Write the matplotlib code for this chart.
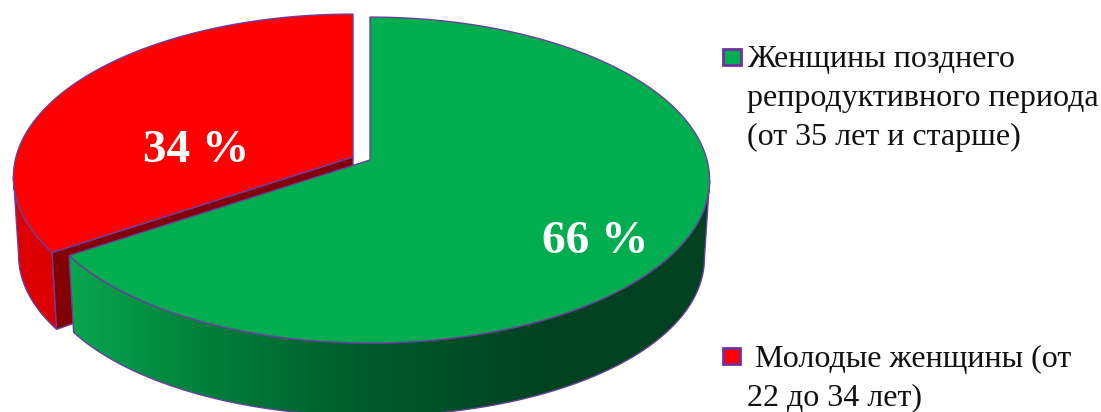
import numpy as np
import matplotlib
matplotlib.use("Agg")
import matplotlib.pyplot as plt
from matplotlib.colors import LinearSegmentedColormap
from matplotlib.patches import Polygon, Rectangle

labels = [["Женщины позднего", "репродуктивного периода", "(от 35 лет и старше)"],
          [" Молодые женщины (от", "22 до 34 лет)"]]
values = [66, 34]
colors = ["#00AE50", "#FF0000"]

EDGE = "#6B3FA0"
CENTERS = [(370, 160), (353, 157)]
RX = 337
RY = 160.5
PERSP = 0.123
DEPTH = 69
SKEW = 1.3  # the cut between slices looks a bit rotated under the tilt
SIDE_START = 97  # angle of the widest point of the disc


def top_ring(th, center):
    # th is degrees clockwise from 12 o'clock, tilted disc seen in perspective
    th = np.radians(th)
    x = np.sin(th)
    y = -np.cos(th)
    w = 1 - PERSP * y
    return center[0] + RX * x / w, center[1] + RY * y / w


def bottom_ring(th, center):
    x, y = top_ring(th, center)
    rad = np.radians(th)
    return center[0] + 0.985 * (x - center[0]), y + DEPTH - 4 * np.cos(rad) + 8 * np.sin(rad) ** 2


def slice_top(a0, a1, center):
    th = np.linspace(a0, a1, 200)
    x, y = top_ring(th, center)
    return np.column_stack([np.r_[center[0], x], np.r_[center[1], y]])


def slice_side(a0, a1, center):
    th = np.linspace(a0, a1, 200)
    x0, y0 = top_ring(th, center)
    x1, y1 = bottom_ring(th[::-1], center)
    return np.column_stack([np.r_[x0, x1], np.r_[y0, y1]])


fig = plt.figure(figsize=(11.01, 4.12), dpi=100)
ax = fig.add_axes([0, 0, 1, 1])

split = 360 * values[0] / sum(values) - SKEW
green_c, red_c = CENTERS

# red slice first, green one sits in front of it
ax.add_patch(Polygon(slice_side(split, 360 - SIDE_START, red_c), closed=True, fc="#DE0000", ec=EDGE, lw=1))
cx, cy = top_ring(split, red_c)
bx, by = bottom_ring(split, red_c)
ax.add_patch(Polygon([red_c, (cx, cy), (bx, by), (red_c[0], red_c[1] + DEPTH)], closed=True,
                     fc="#820000", ec=EDGE, lw=1))
ax.add_patch(Polygon(slice_top(split, 360, red_c), closed=True, fc=colors[1], ec=EDGE, lw=1))

# green side wall has a horizontal gradient
side = Polygon(slice_side(SIDE_START, split, green_c), closed=True, fc="none", ec=EDGE, lw=1)
ax.add_patch(side)
grad = LinearSegmentedColormap.from_list("side", [(0, "#08A64E"), (0.2, "#00813C"), (0.46, "#005A2B"),
                                                  (0.76, "#004120"), (1, "#004120")])
im = ax.imshow(np.linspace(0, 1, 256).reshape(1, -1), cmap=grad, extent=(70, 712, 412, 0),
               aspect="auto", zorder=1.5)
im.set_clip_path(side)
side.set_zorder(1.6)
ax.add_patch(Polygon(slice_top(0, split, green_c), closed=True, fc=colors[0], ec=EDGE, lw=1, zorder=2))

# percent labels
ax.text(196, 151.5, f"{values[1]} %", color="white", fontsize=34, fontweight="bold",
        family="Liberation Serif", ha="center", va="center", zorder=3)
ax.text(595, 242, f"{values[0]} %", color="white", fontsize=34, fontweight="bold",
        family="Liberation Serif", ha="center", va="center", zorder=3)

# legend
ax.add_patch(Rectangle((723, 49), 18, 16, fc=colors[0], ec="#7030A0", lw=2, zorder=3))
ax.add_patch(Rectangle((723, 348), 17, 16, fc=colors[1], ec="#7030A0", lw=2, zorder=3))
for line, y in zip(labels[0], [67, 106, 145]):
    ax.text(747, y, line, fontsize=23, family="Liberation Serif", color="#111111", va="baseline")
for line, y in zip(labels[1], [367, 405]):
    ax.text(747, y, line, fontsize=23, family="Liberation Serif", color="#111111", va="baseline")

ax.set_xlim(0, 1101)
ax.set_ylim(412, 0)
ax.axis("off")
fig.savefig("out.png", dpi=100)
